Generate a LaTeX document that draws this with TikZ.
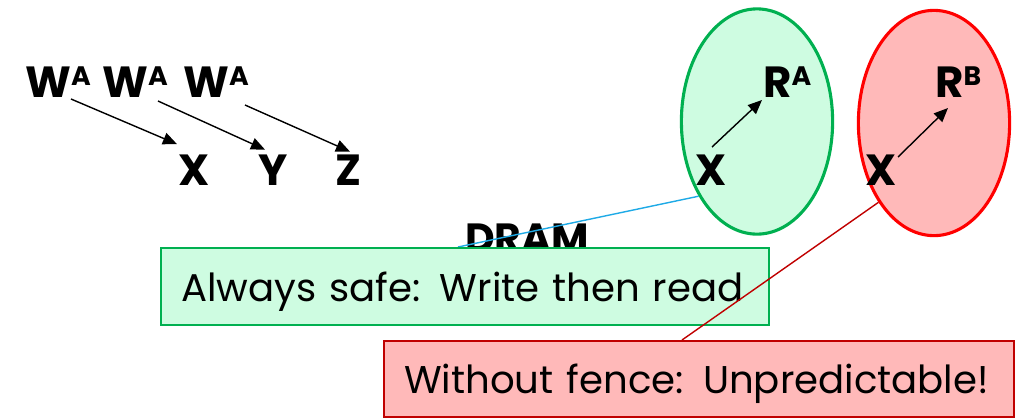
\documentclass[tikz,border=0pt]{standalone}
\usepackage{fontspec}
\setmainfont{Poppins}
\usetikzlibrary{shapes.geometric,arrows.meta}

\definecolor{safefill}{RGB}{206,252,225}
\definecolor{safegreen}{RGB}{0,176,80}
\definecolor{unsafefill}{RGB}{255,185,185}
\definecolor{unsafered}{RGB}{255,0,0}
\definecolor{unsafedark}{RGB}{192,0,0}
\definecolor{dramblue}{RGB}{30,170,230}

\newcommand{\suplbl}[1]{\raisebox{8pt}{\fontsize{19}{19}\selectfont #1}}

\begin{document}
\begin{tikzpicture}[x=0.025cm, y=-0.025cm,
    big/.style={font=\fontsize{31}{34}\selectfont\bfseries, inner sep=0pt, anchor=base west},
    arw/.style={-{Triangle[length=10pt,width=8.5pt]}, line width=1pt},
    fence/.style={ellipse, line width=2.2pt, minimum width=3.78cm, minimum height=5.63cm},
    note/.style={anchor=north west, inner xsep=0.5cm, inner ysep=0pt, align=left,
        text depth=0pt, font=\fontsize{27.5}{30}\selectfont}]

\useasboundingbox (0,0) rectangle (1025,417);

\node[fence, draw=safegreen, fill=safefill] (fenceA) at (757,121.5) {};
\node[fence, draw=unsafered, fill=unsafefill] (fenceB) at (934,123) {};

% writes of A
\node[big] (wA1) at (25,97) {W\suplbl{A}};
\node[big] (wA2) at (102,97) {W\suplbl{A}};
\node[big] (wA3) at (183,97) {W\suplbl{A}};
\node[big] (xX) at (178,185) {X};
\node[big] (xY) at (258,185) {Y};
\node[big] (xZ) at (335,185) {Z};

\draw[arw] ([shift={(46,2)}]wA1.base west) -- ([shift={(-1,-10)}]xX.north west);
\draw[arw] ([shift={(56,4)}]wA2.base west) -- ([shift={(7,-4.5)}]xY.north west);
\draw[arw] ([shift={(62,8)}]wA3.base west) -- ([shift={(15,-2.5)}]xZ.north west);

% reads
\node[big] (xA) at (695,185) {X};
\node[big] (rA) at (763,97) {R\suplbl{A}};
\node[big] (xB) at (865,185) {X};
\node[big] (rB) at (935,97) {R\suplbl{B}};

\draw[arw] ([shift={(17,-38)}]xA.base west) -- ([shift={(-1,3)}]rA.base west);
\draw[arw] ([shift={(33,-28)}]xB.base west) -- ([shift={(13,11)}]rB.base west);

\node[big, font=\fontsize{29}{32}\selectfont\bfseries] (dram) at (465,252) {DRAM};

\coordinate (safeEnd) at (458,247);
\coordinate (unsafeEnd) at (682,340);

\draw[dramblue, line width=1pt] (fenceA.232) -- (safeEnd);
\node[note, draw=safegreen, fill=safefill, line width=1.5pt, text width=14.2cm,
    minimum height=1.925cm] (safe) at (160,247) {Always safe: Write then read};

\draw[unsafedark, line width=1pt] (fenceB.235) -- (unsafeEnd);
% \draw[unsafedark] (unsafeEnd) circle (3);
\node[note, draw=unsafedark, fill=unsafefill, line width=1.5pt, text width=14.75cm,
    minimum height=1.9cm] (unsafe) at (383,340) {Without fence: Unpredictable!};

\end{tikzpicture}
\end{document}
